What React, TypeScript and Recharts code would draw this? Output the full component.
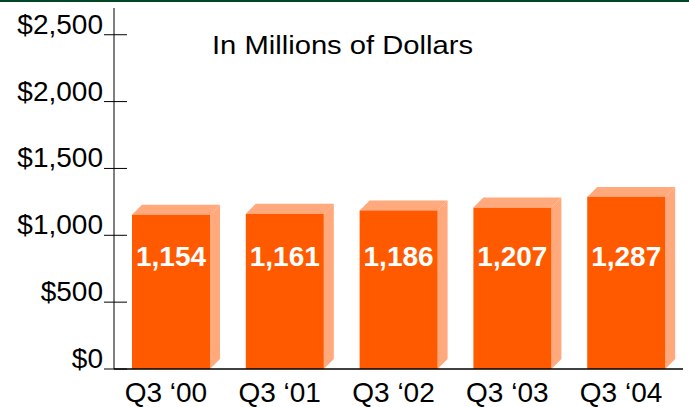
import { BarChart, Bar, XAxis, YAxis, LabelList } from "recharts";

const quarters = ["Q3 \u201800", "Q3 \u201801", "Q3 \u201802", "Q3 \u201803", "Q3 \u201804"];
const revenue = [1154, 1161, 1186, 1207, 1287];
const yTicks = [0, 500, 1000, 1500, 2000, 2500];

const data = quarters.map((q, i) => ({ quarter: q, value: revenue[i] }));

const FRONT = "#FF5A00";
const SIDE = "#FFA97C";
const FONT = "'Liberation Sans', Arial, sans-serif";
const DEPTH = 10;

const Bar3D = (props: any) => {
  const { x, y, width, height } = props;
  if (height == null || height <= 0) return null;
  const d = DEPTH;
  return (
    <g>
      <polygon
        points={`${x},${y} ${x + d},${y - d} ${x + width + d},${y - d} ${x + width},${y}`}
        fill={SIDE}
      />
      <polygon
        points={`${x + width},${y} ${x + width + d},${y - d} ${x + width + d},${y + height - d} ${x + width},${y + height}`}
        fill={SIDE}
      />
      <rect x={x} y={y} width={width} height={height} fill={FRONT} />
    </g>
  );
};

const YTick = (props: any) => {
  const { x, y, payload } = props;
  const label = "$" + Number(payload.value).toLocaleString("en-US");
  return (
    <g>
      <line x1={x - 10} x2={x + 13} y1={y} y2={y} stroke="#000" strokeWidth={1} />
      <text
        x={x - 11}
        y={y - 1}
        textAnchor="end"
        fontSize={28}
        fontFamily={FONT}
        fill="#000"
      >
        {label}
      </text>
    </g>
  );
};

const XTick = (props: any) => {
  const { x, y, payload } = props;
  return (
    <text x={x - 5} y={y + 33} textAnchor="middle" fontSize={28} fontFamily={FONT} fill="#000">
      {payload.value}
    </text>
  );
};

const ValueLabel = (props: any) => {
  const { x, width, value } = props;
  return (
    <text
      x={x + width / 2}
      y={266}
      textAnchor="middle"
      fontSize={28}
      fontWeight="bold"
      fontFamily={FONT}
      fill="#fff"
    >
      {Number(value).toLocaleString("en-US")}
    </text>
  );
};

export default function App() {
  return (
    <div style={{ position: "absolute", left: 0, top: 0, width: 689, height: 407, background: "#fff" }}>
      <div style={{ position: "absolute", left: 0, top: 0, width: 689, height: 2, background: "#034626" }} />
      <BarChart
        width={689}
        height={407}
        data={data}
        margin={{ top: 8, right: 6, bottom: 0, left: 0 }}
        barCategoryGap={0}
      >
        <XAxis
          dataKey="quarter"
          axisLine={{ stroke: "#000", strokeWidth: 1.5 }}
          tickLine={false}
          tickSize={0}
          tickMargin={0}
          tick={<XTick />}
          height={38}
          interval={0}
        />
        <YAxis
          domain={[0, 2700]}
          ticks={yTicks}
          axisLine={{ stroke: "#000", strokeWidth: 1 }}
          tickLine={false}
          tickSize={0}
          tickMargin={0}
          tick={<YTick />}
          width={114}
          interval={0}
        />
        <Bar dataKey="value" barSize={78} shape={<Bar3D />} isAnimationActive={false}>
          <LabelList dataKey="value" content={<ValueLabel />} />
        </Bar>
      </BarChart>
      <svg
        width={689}
        height={407}
        style={{ position: "absolute", left: 0, top: 0, pointerEvents: "none" }}
      >
        <text
          x={212}
          y={54}
          fontSize={25}
          fontFamily={FONT}
          fill="#000"
          textLength={261}
          lengthAdjust="spacingAndGlyphs"
        >
          In Millions of Dollars
        </text>
      </svg>
    </div>
  );
}
